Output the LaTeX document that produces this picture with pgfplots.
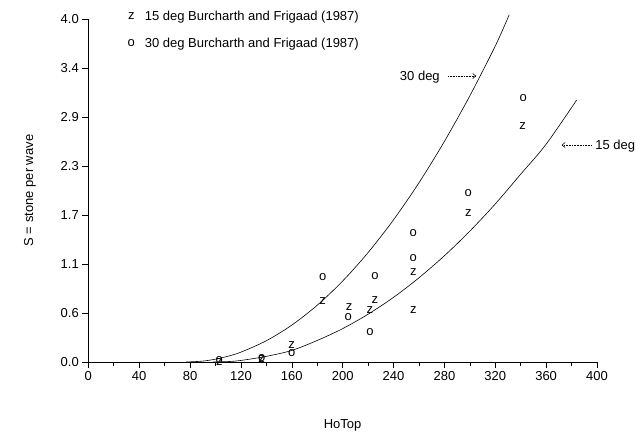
\documentclass[border=0pt]{standalone}
\usepackage{fontspec}
\setmainfont{Liberation Sans}
\usepackage{pgfplots}
\pgfplotsset{compat=1.18}
\usetikzlibrary{arrows.meta}
\newcommand\fs{\fontsize{13bp}{15.6bp}\selectfont}

% z = 15 deg, o = 30 deg (Burcharth and Frigaad 1987)
\pgfplotstableread{
x     s
103   0.00
136.3 0.03
159.9 0.198
184.3 0.715
205   0.638
221.5 0.606
225.4 0.723
255.6 1.046
255.6 0.606
298.8 1.734
341.5 2.756
}\zdata
\pgfplotstableread{
x     s
103   0.02
136.3 0.05
159.9 0.101
184.3 0.995
204.4 0.528
221.5 0.353
225.4 1.003
255.6 1.508
255.6 1.209
298.8 1.967
342   3.075
}\odata

\begin{document}
\begin{tikzpicture}
\useasboundingbox (0,0) rectangle (638bp,432bp);
\begin{axis}[
  at={(88.3bp,70bp)}, anchor=south west,
  scale only axis, width=508.7bp, height=343bp,
  xmin=0, xmax=400, ymin=0, ymax=4,
  clip=false,
  axis lines=left,
  axis line style={-, line width=0.6bp},
  tick align=outside,
  major tick length=6bp, minor tick length=3.5bp,
  every tick/.style={black, line width=0.5bp},
  xtick={0,40,...,400}, minor x tick num=1,
  ytick={0,0.5714,1.1429,1.7143,2.2857,2.8571,3.4286,4},
  yticklabels={0.0,0.6,1.1,1.7,2.3,2.9,3.4,4.0},
  minor y tick num=1,
  /pgf/number format/assume math mode=true,
  ticklabel style={font=\fs},
  xlabel={HoTop}, ylabel={S = stone per wave},
  label style={font=\fs},
  x label style={at={(axis description cs:0.5,-0.184)}, anchor=center},
  y label style={at={(axis description cs:-0.1146,0.5)}, anchor=center},
  legend style={at={(0.077,1.030)}, anchor=north west, draw=none, fill=none,
    font=\fs, row sep=12bp, column sep=8bp, inner sep=0pt},
  legend cell align=left,
]
\addplot[only marks, mark=text, text mark={\fs z}] table {\zdata};
\addplot[only marks, mark=text, text mark={\fs o}] table {\odata};
\legend{15 deg Burcharth and Frigaad (1987), 30 deg Burcharth and Frigaad (1987)}

% fitted curves
\addplot[black, line width=0.6bp, smooth, forget plot] coordinates {
(77,0) (90,0.0105) (100,0.033) (110,0.068) (120,0.115) (140,0.248) (160,0.43)
(180,0.662) (200,0.944) (220,1.276) (240,1.658) (260,2.09) (280,2.572)
(300,3.104) (320,3.685) (331,4.05)};
\addplot[black, line width=0.6bp, smooth, forget plot] coordinates {
(98,0) (110,0.005) (120,0.018) (140,0.066) (160,0.135) (180,0.251) (200,0.389)
(220,0.557) (240,0.754) (260,0.982) (280,1.239) (300,1.526) (320,1.843)
(340,2.19) (360,2.54) (384,3.055)};

\node[anchor=base east, inner sep=0pt, font=\fs] at (axis cs:276.5,3.283) {30 deg};
\draw[densely dotted, line width=0.6bp, -{Straight Barb[length=3bp,width=5bp]}]
  (axis cs:282.8,3.335) -- (axis cs:305,3.335);
\node[anchor=base west, inner sep=0pt, font=\fs] at (axis cs:398.6,2.478) {15 deg};
\draw[densely dotted, line width=0.6bp, -{Straight Barb[length=3bp,width=5bp]}]
  (axis cs:395.8,2.53) -- (axis cs:372.2,2.53);
\end{axis}
\end{tikzpicture}
\end{document}
